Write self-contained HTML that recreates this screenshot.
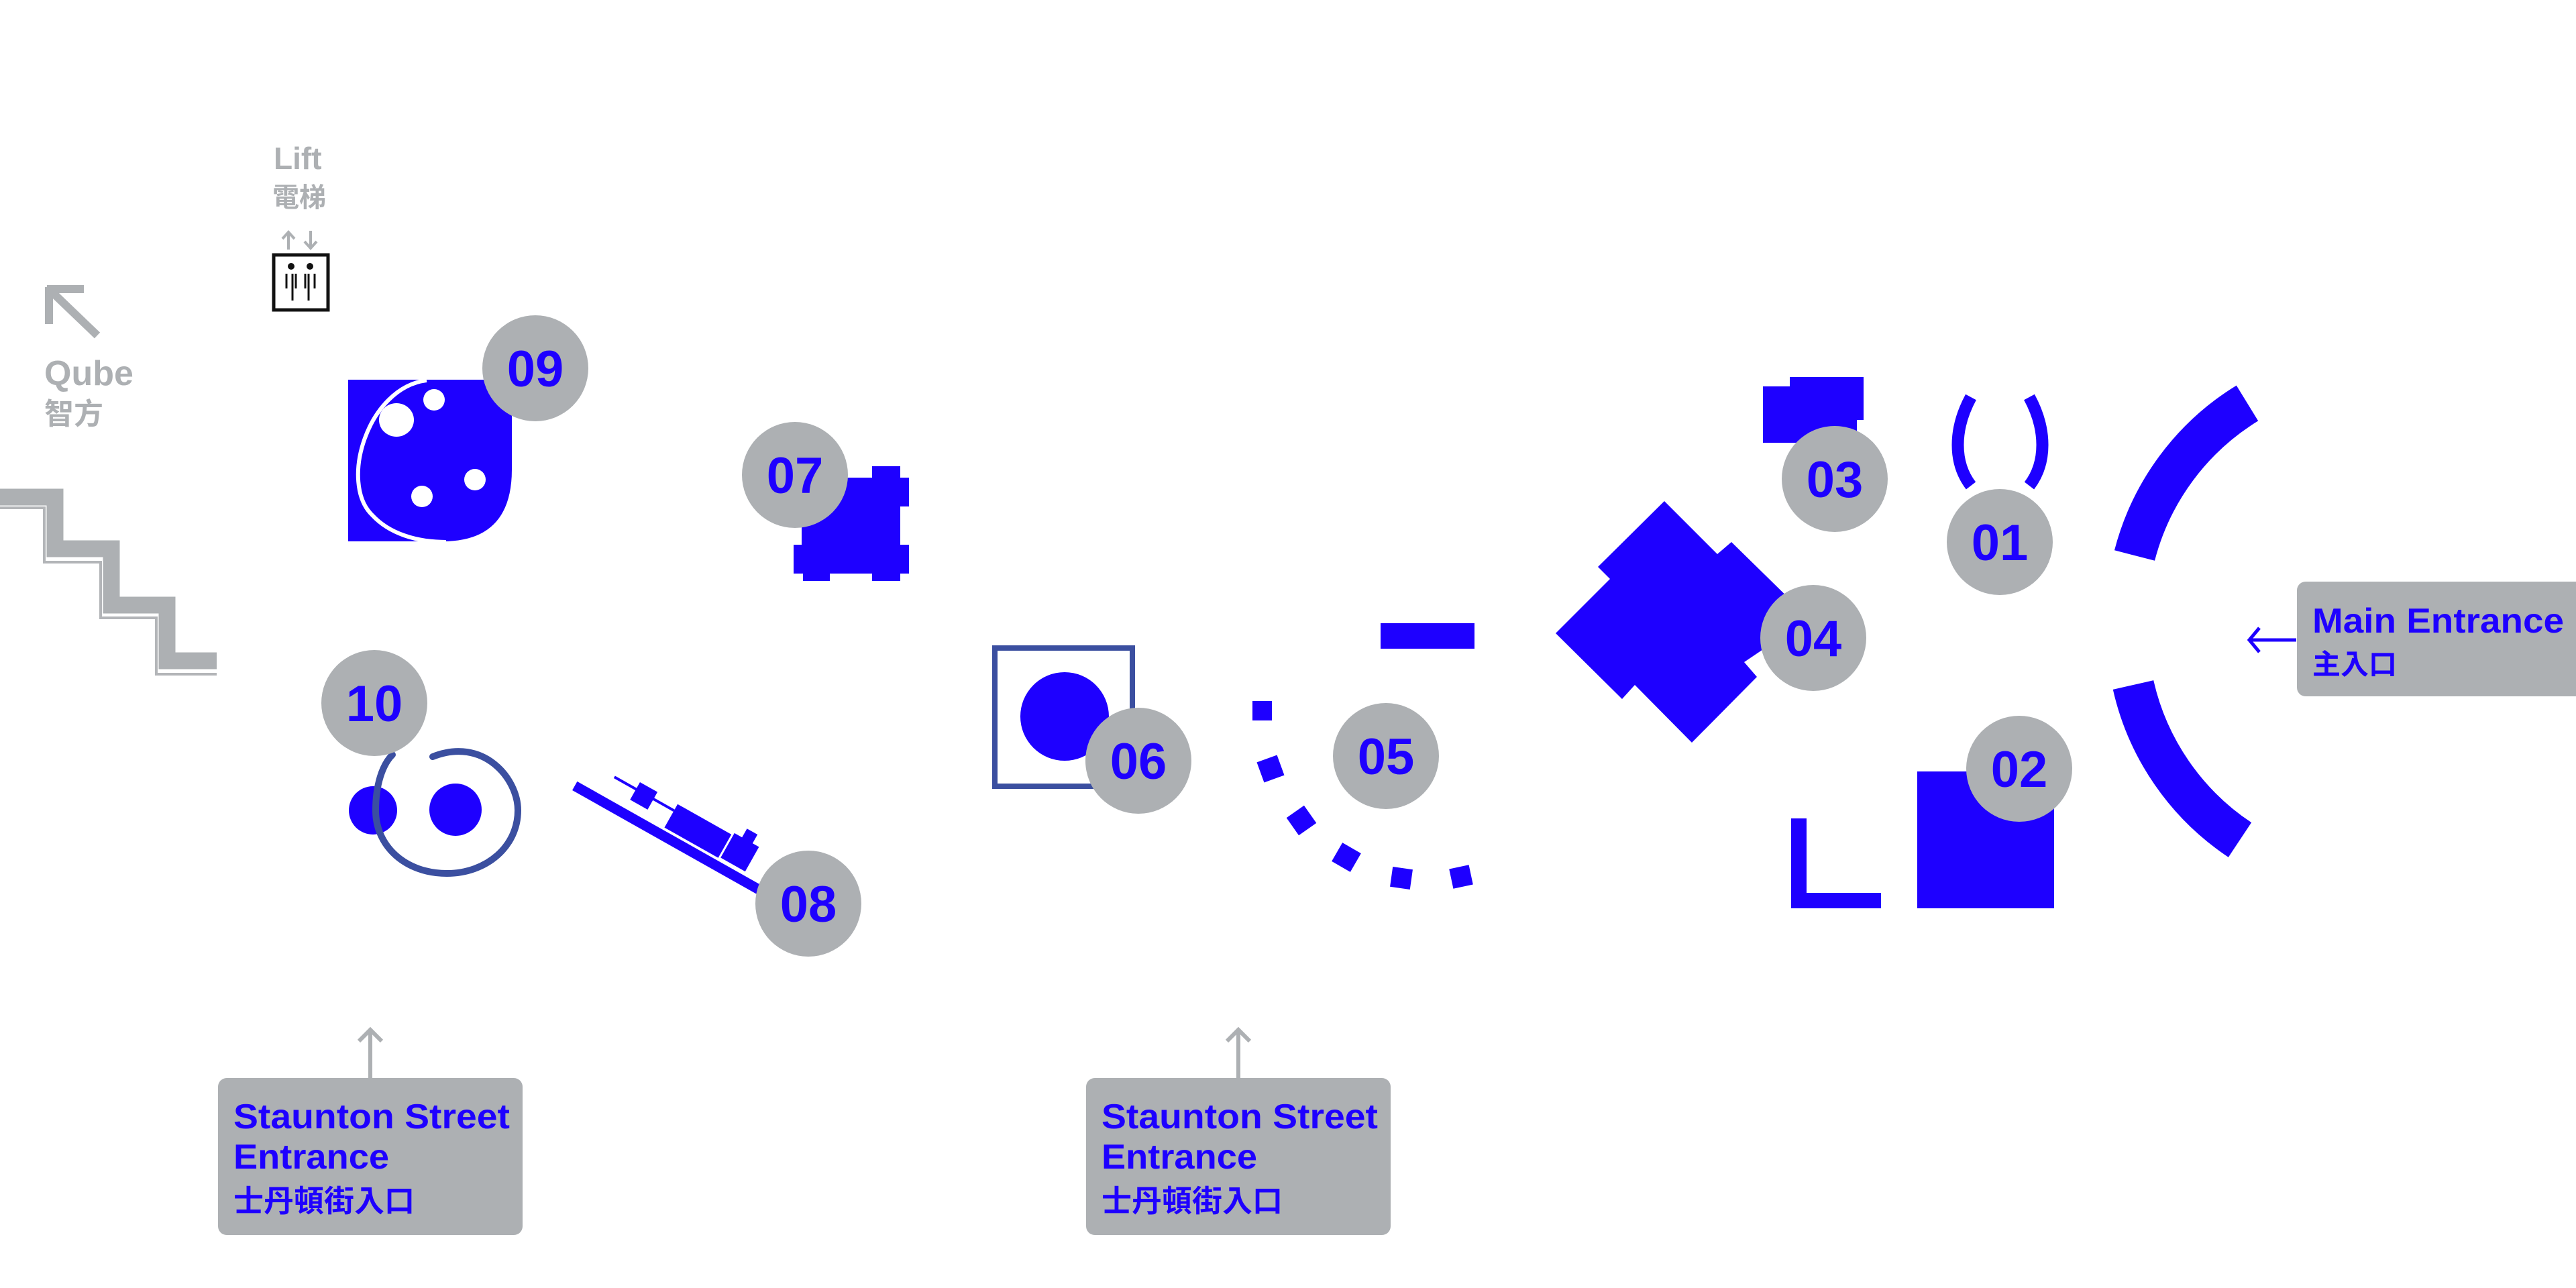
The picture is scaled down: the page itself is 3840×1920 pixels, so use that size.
<!DOCTYPE html>
<html><head><meta charset="utf-8"><style>
html,body{margin:0;padding:0;background:#fff;}
svg{display:block;}
text{font-family:"Liberation Sans","Noto Sans CJK TC",sans-serif;font-weight:bold;}
</style></head><body>
<svg width="3840" height="1920" viewBox="0 0 3840 1920" xmlns="http://www.w3.org/2000/svg">
<rect width="3840" height="1920" fill="#fff"/>
<!-- Lift -->
<text x="408" y="252" font-size="46" fill="#adb0b3">Lift</text>
<text x="406" y="308" font-size="40" fill="#adb0b3">電梯</text>
<g stroke="#adb0b3" stroke-width="4" fill="none">
<path d="M430 372 V346 M421 356 L430 346 L439 356"/>
<path d="M463 344 V370 M454 360 L463 370 L472 360"/>
</g>
<rect x="408" y="380" width="81" height="82" fill="#fff" stroke="#111" stroke-width="5"/>
<circle cx="434" cy="397" r="5" fill="#111"/><circle cx="462" cy="397" r="5" fill="#111"/>
<g stroke="#111" stroke-width="3"><path d="M427 408V430 M436 408V448 M441 408V430 M455 408V430 M460 408V448 M469 408V430"/></g>
<!-- Qube -->
<g stroke="#adb0b3" stroke-width="12" fill="none"><path d="M73 431 L145 500 M70 431 H125 M73 428 V483"/></g>
<text x="66" y="574" font-size="52" fill="#adb0b3">Qube</text>
<text x="66" y="632" font-size="44" fill="#adb0b3">智方</text>
<!-- stairs -->
<path d="M0 741 H82 V818 H166 V902 H249 V985 H323" fill="none" stroke="#adb0b3" stroke-width="25"/>
<path d="M0 757 H66 V838 H150 V921 H233 V1005 H323" fill="none" stroke="#b3b5b8" stroke-width="4"/>
<!-- 09 -->
<path d="M519 566 H763 V700 Q763 807 660 807 H519 Z" fill="#1e00ff"/>
<path d="M636 567 C548 578 505 720 555 768 C580 795 620 808 665 808" fill="none" stroke="#fff" stroke-width="6"/>
<ellipse cx="591" cy="626" rx="26" ry="25" fill="#fff"/>
<circle cx="647" cy="596" r="16" fill="#fff"/>
<circle cx="708" cy="715" r="16" fill="#fff"/>
<circle cx="629" cy="740" r="16" fill="#fff"/>
<!-- 07 -->
<path d="M1195 712 H1300 V695 H1342 V712 H1355 V755 H1342 V812 H1355 V855 H1342 V866 H1300 V855 H1237 V866 H1197 V855 H1183 V812 H1195 Z" fill="#1e00ff"/>
<!-- 10 -->
<circle cx="556" cy="1208" r="36" fill="#1e00ff"/>
<path d="M645 1128 C720 1098 772 1160 772 1208 C772 1262 725 1302 666 1302 C605 1302 560 1262 560 1208 C560 1170 570 1140 585 1125" fill="none" stroke="#3b4fa0" stroke-width="10" stroke-linecap="round"/>
<circle cx="679" cy="1207" r="39" fill="#1e00ff"/>
<!-- 08 -->
<g transform="translate(857,1171) rotate(29.4)" fill="#1e00ff">
<rect x="0" y="-7" width="320" height="15"/>
<rect x="45" y="-42" width="102" height="4"/>
<rect x="82" y="-52" width="30" height="30"/>
<rect x="147" y="-51" width="92" height="40"/>
<rect x="242" y="-55" width="42" height="42"/>
<rect x="255" y="-70" width="18" height="16"/>
</g>
<!-- 06 -->
<rect x="1483" y="966" width="205" height="206" fill="none" stroke="#3b4fa0" stroke-width="8"/>
<circle cx="1587" cy="1068" r="66" fill="#1e00ff"/>
<!-- 05 -->
<rect x="2058" y="929" width="140" height="38" fill="#1e00ff"/>
<g fill="#1e00ff">
<rect x="-15" y="-15" width="29" height="29" transform="translate(1882,1060)"/>
<rect x="-16" y="-16" width="32" height="32" transform="translate(1894,1146) rotate(-20)"/>
<rect x="-16" y="-16" width="32" height="32" transform="translate(1940,1223) rotate(-35)"/>
<rect x="-16" y="-16" width="32" height="32" transform="translate(2007,1278) rotate(30)"/>
<rect x="-15" y="-15" width="30" height="30" transform="translate(2089,1309) rotate(8)"/>
<rect x="-15" y="-15" width="30" height="30" transform="translate(2178,1307) rotate(-12)"/>
</g>
<!-- 04 -->
<path d="M2481 747 L2560 826 L2581 808 L2680 905 L2640 960 L2600 987 L2619 1009 L2522 1107 L2437 1021 L2418 1042 L2319 944 L2400 863 L2382 845 Z" fill="#1e00ff"/>
<!-- 03 -->
<path d="M2668 562 H2778 V626 H2768 V660 H2628 V576 H2668 Z" fill="#1e00ff"/>
<!-- 01 parens -->
<path d="M2938 592 C2912 640 2912 690 2938 724" fill="none" stroke="#1e00ff" stroke-width="18"/>
<path d="M3025 592 C3051 640 3051 690 3025 724" fill="none" stroke="#1e00ff" stroke-width="18"/>
<!-- big arcs -->
<path d="M3350 601 A377 377 0 0 0 3182 828" fill="none" stroke="#1e00ff" stroke-width="62"/>
<path d="M3180 1021 A377 377 0 0 0 3339 1252" fill="none" stroke="#1e00ff" stroke-width="62"/>
<!-- 02 -->
<rect x="2858" y="1150" width="204" height="204" fill="#1e00ff"/>
<path d="M2670 1220 H2693 V1331 H2804 V1354 H2670 Z" fill="#1e00ff"/>
<!-- gray number circles -->
<g fill="#adb0b3">
<circle cx="798" cy="549" r="79"/>
<circle cx="1185" cy="708" r="79"/>
<circle cx="558" cy="1048" r="79"/>
<circle cx="1205" cy="1347" r="79"/>
<circle cx="1697" cy="1134" r="79"/>
<circle cx="2066" cy="1127" r="79"/>
<circle cx="2703" cy="951" r="79"/>
<circle cx="2735" cy="714" r="79"/>
<circle cx="2981" cy="808" r="79"/>
<circle cx="3010" cy="1146" r="79"/>
</g>
<g font-size="76" fill="#1e00ff" text-anchor="middle">
<text x="798" y="576">09</text>
<text x="1185" y="735">07</text>
<text x="558" y="1075">10</text>
<text x="1205" y="1374">08</text>
<text x="1697" y="1161">06</text>
<text x="2066" y="1154">05</text>
<text x="2703" y="978">04</text>
<text x="2735" y="741">03</text>
<text x="2981" y="835">01</text>
<text x="3010" y="1173">02</text>
</g>
<!-- Main entrance -->
<rect x="3424" y="867" width="430" height="171" rx="13" fill="#adb0b3"/>
<text x="3447" y="943" font-size="52" fill="#1e00ff" textLength="375" lengthAdjust="spacingAndGlyphs">Main Entrance</text>
<text x="3447" y="1005" font-size="42" fill="#1e00ff">主入口</text>
<g stroke="#1e00ff" stroke-width="5" fill="none"><path d="M3423 954 H3354 M3368 936 L3353 954 L3368 972"/></g>
<!-- Staunton boxes -->
<g>
<rect x="325" y="1607" width="454" height="234" rx="13" fill="#adb0b3"/>
<text x="348" y="1682" font-size="52" fill="#1e00ff" textLength="412" lengthAdjust="spacingAndGlyphs">Staunton Street</text>
<text x="348" y="1742" font-size="52" fill="#1e00ff" textLength="232" lengthAdjust="spacingAndGlyphs">Entrance</text>
<text x="348" y="1806" font-size="45" fill="#1e00ff">士丹頓街入口</text>
<g stroke="#adb0b3" stroke-width="6" fill="none"><path d="M552 1607 V1535 M535 1552 L552 1535 L569 1552"/></g>
</g>
<g transform="translate(1294,0)">
<rect x="325" y="1607" width="454" height="234" rx="13" fill="#adb0b3"/>
<text x="348" y="1682" font-size="52" fill="#1e00ff" textLength="412" lengthAdjust="spacingAndGlyphs">Staunton Street</text>
<text x="348" y="1742" font-size="52" fill="#1e00ff" textLength="232" lengthAdjust="spacingAndGlyphs">Entrance</text>
<text x="348" y="1806" font-size="45" fill="#1e00ff">士丹頓街入口</text>
<g stroke="#adb0b3" stroke-width="6" fill="none"><path d="M552 1607 V1535 M535 1552 L552 1535 L569 1552"/></g>
</g>
</svg>
</body></html>
